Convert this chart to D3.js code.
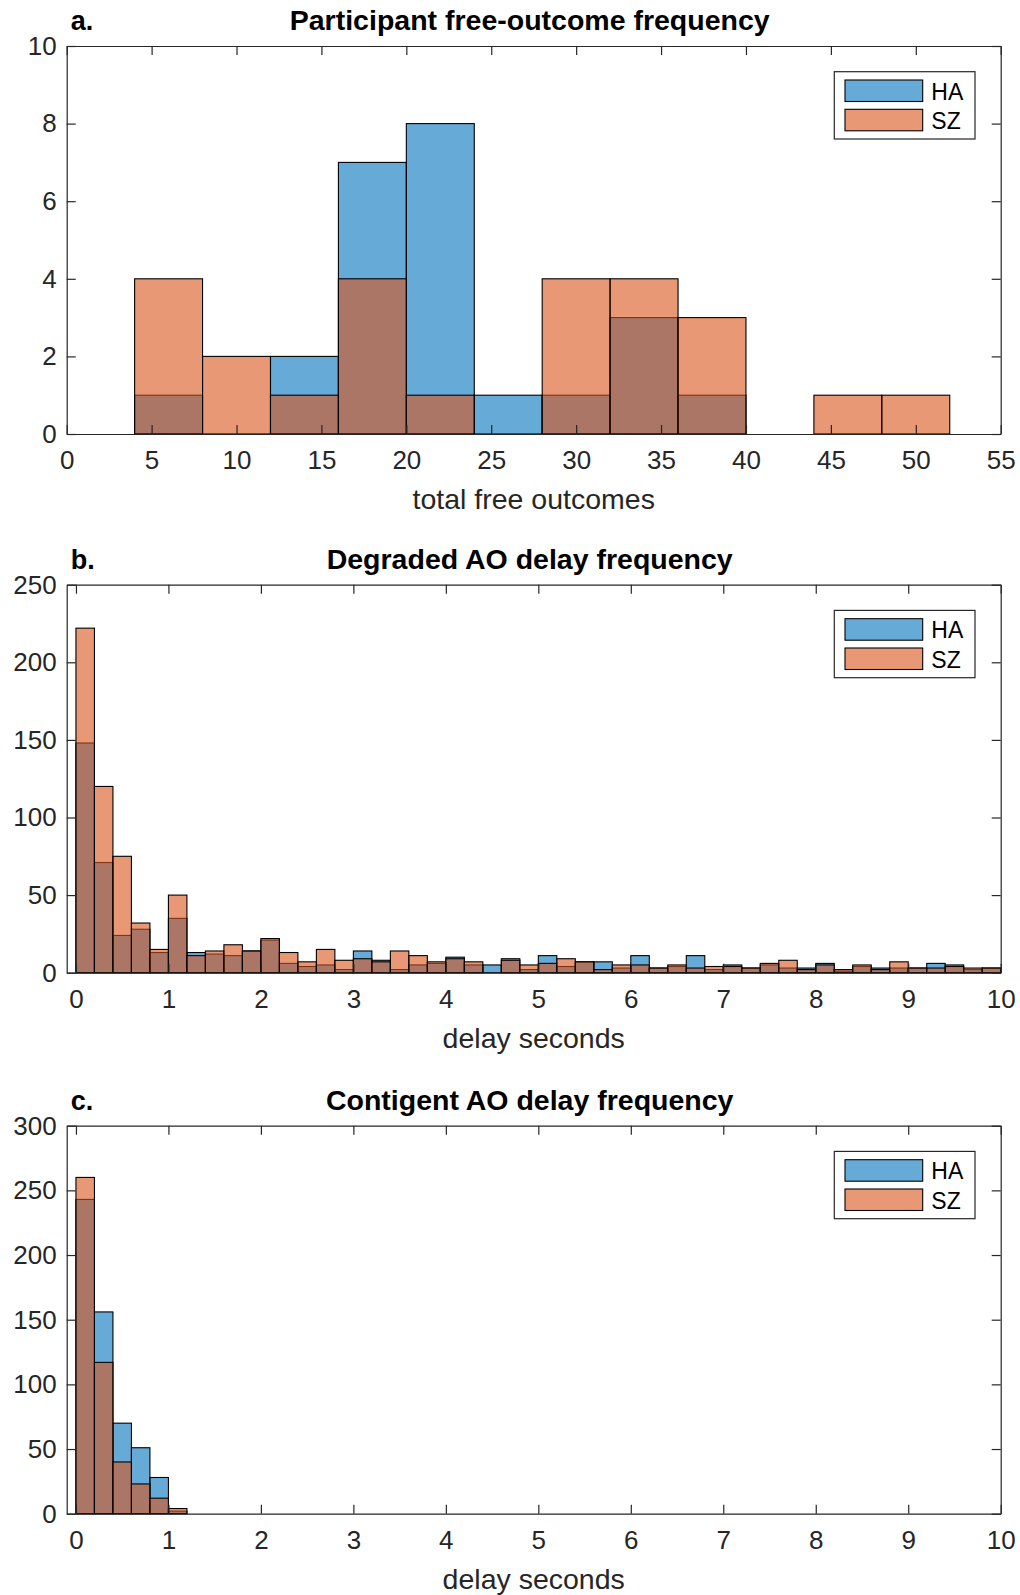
<!DOCTYPE html>
<html>
<head>
<meta charset="utf-8">
<script src="https://d3js.org/d3.v7.min.js"></script>
<style>
  body { margin: 0; background: #fff; }
  text { font-family: "Liberation Sans", Arial, Helvetica, sans-serif; fill: #262626; }
</style>
</head>
<body>
<script>
var WIDTH = 1020;
var HEIGHT = 1595;

// panel a: participant free-outcome counts, bins of 4
var freeEdges = [4, 8, 12, 16, 20, 24, 28, 32, 36, 40, 44, 48, 52];
var freeHA = [1, 0, 2, 7, 8, 1, 1, 3, 1, 0, 0, 0];
var freeSZ = [4, 2, 1, 4, 1, 0, 4, 4, 3, 0, 1, 1];
var freeXTicks = [0, 5, 10, 15, 20, 25, 30, 35, 40, 45, 50, 55];
var freeYTicks = [0, 2, 4, 6, 8, 10];

// panel b: degraded AO delay, bins of 0.2 s
var delayEdges = [0, 0.2, 0.4, 0.6, 0.8, 1, 1.2, 1.4, 1.6, 1.8, 2, 2.2, 2.4, 2.6, 2.8, 3, 3.2, 3.4, 3.6, 3.8,
  4, 4.2, 4.4, 4.6, 4.8, 5, 5.2, 5.4, 5.6, 5.8, 6, 6.2, 6.4, 6.6, 6.8, 7, 7.2, 7.4, 7.6, 7.8,
  8, 8.2, 8.4, 8.6, 8.8, 9, 9.2, 9.4, 9.6, 9.8, 10];
var degHA = [148, 71, 24, 28, 13, 35, 13, 12, 11, 14,
  21, 6, 4, 5, 2, 14, 8, 2, 5, 6,
  10, 5, 5, 9, 2, 11, 4, 7, 7, 3,
  11, 3, 4, 11, 2, 5, 3, 5, 3, 3,
  6, 1, 4, 3, 3, 3, 6, 5, 2, 3];
var degSZ = [222, 120, 75, 32, 15, 50, 11, 14, 18, 14,
  22, 13, 7, 15, 8, 9, 7, 14, 11, 7,
  9, 7, 0, 8, 5, 6, 9, 7, 2, 5,
  5, 3, 5, 3, 4, 4, 3, 6, 8, 2,
  5, 2, 5, 2, 7, 3, 3, 4, 3, 3];
var degYTicks = [0, 50, 100, 150, 200, 250];

// panel c: contingent AO delay
var contEdges = [0, 0.2, 0.4, 0.6, 0.8, 1, 1.2];
var contHA = [243, 156, 70, 51, 28, 2];
var contSZ = [260, 117, 40, 23, 12, 4];
var contYTicks = [0, 50, 100, 150, 200, 250, 300];

var delayXTicks = [0, 1, 2, 3, 4, 5, 6, 7, 8, 9, 10];

var BLUE = "rgb(0,114,189)";
var ORANGE = "rgb(217,83,25)";

var svg = d3.select("body")
  .append("svg")
  .attr("width", WIDTH)
  .attr("height", HEIGHT);

var LEFT = 66.7, RIGHT = 1000.7, PH = 388;

function histPanel(opt) {
  var g = svg.append("g").attr("transform", "translate(0," + opt.top + ")");

  var x = d3.scaleLinear().domain(opt.xdom).range([LEFT, RIGHT]);
  var y = d3.scaleLinear().domain(opt.ydom).range([PH, 0]);

  // bars, HA first then SZ drawn over it
  [[opt.ha, BLUE], [opt.sz, ORANGE]].forEach(function (s) {
    var bins = s[0].map(function (v, i) {
      return { x0: opt.edges[i], x1: opt.edges[i + 1], v: v };
    });
    g.append("g").selectAll("rect")
      .data(bins)
      .enter()
      .append("rect")
      .attr("x", function (d) { return x(d.x0); })
      .attr("width", function (d) { return x(d.x1) - x(d.x0); })
      .attr("y", function (d) { return y(d.v); })
      .attr("height", function (d) { return y(0) - y(d.v); })
      .attr("fill", s[1])
      .attr("fill-opacity", 0.6)
      .attr("stroke", "#000")
      .attr("stroke-width", 1.1);
  });

  // box + ticks on all sides, pointing inwards
  var bottom = d3.axisBottom(x).tickValues(opt.xticks).tickSizeInner(-9).tickSizeOuter(0).tickPadding(17);
  var top = d3.axisTop(x).tickValues(opt.xticks).tickSizeInner(-9).tickSizeOuter(0).tickFormat("");
  var left = d3.axisLeft(y).tickValues(opt.yticks).tickSizeInner(-9).tickSizeOuter(0).tickPadding(10);
  var right = d3.axisRight(y).tickValues(opt.yticks).tickSizeInner(-9).tickSizeOuter(0).tickFormat("");

  var axes = [
    g.append("g").attr("transform", "translate(0," + PH + ")").call(bottom),
    g.append("g").call(top),
    g.append("g").attr("transform", "translate(" + LEFT + ",0)").call(left),
    g.append("g").attr("transform", "translate(" + RIGHT + ",0)").call(right)
  ];
  axes.forEach(function (a) {
    a.select(".domain").attr("stroke", "#262626").attr("stroke-width", 1.2);
    a.selectAll(".tick line").attr("stroke", "#262626").attr("stroke-width", 1.2);
    a.selectAll(".tick text").attr("fill", "#262626").style("font-size", "26px");
  });

  // title + panel letter
  g.append("text")
    .attr("x", (LEFT + RIGHT) / 2 - 4)
    .attr("y", -16)
    .attr("text-anchor", "middle")
    .style("font-size", "28.5px")
    .style("font-weight", "bold")
    .style("fill", "#000")
    .text(opt.title);
  g.append("text")
    .attr("x", LEFT + 4)
    .attr("y", -16)
    .style("font-size", "27px")
    .style("font-weight", "bold")
    .style("fill", "#000")
    .text(opt.letter);

  g.append("text")
    .attr("x", (LEFT + RIGHT) / 2)
    .attr("y", PH + 75)
    .attr("text-anchor", "middle")
    .style("font-size", "28.5px")
    .text(opt.xlabel);

  // legend
  var lg = g.append("g").attr("transform", "translate(834.3,25.7)");
  lg.append("rect").attr("width", 140.7).attr("height", 67.3)
    .attr("fill", "#fff").attr("stroke", "#262626").attr("stroke-width", 1.2);
  [["HA", BLUE], ["SZ", ORANGE]].forEach(function (l, i) {
    lg.append("rect")
      .attr("x", 10.7).attr("y", 8.3 + i * 29.3)
      .attr("width", 77.7).attr("height", 21.5)
      .attr("fill", l[1]).attr("fill-opacity", 0.6)
      .attr("stroke", "#000").attr("stroke-width", 1.1);
    lg.append("text")
      .attr("x", 97).attr("y", 28 + i * 29.3)
      .style("font-size", "23px")
      .style("fill", "#000")
      .text(l[0]);
  });
}

histPanel({
  top: 46, letter: "a.", title: "Participant free-outcome frequency", xlabel: "total free outcomes",
  xdom: [0, 55], ydom: [0, 10], edges: freeEdges, ha: freeHA, sz: freeSZ,
  xticks: freeXTicks, yticks: freeYTicks
});

histPanel({
  top: 584.7, letter: "b.", title: "Degraded AO delay frequency", xlabel: "delay seconds",
  xdom: [-0.1, 10], ydom: [0, 250], edges: delayEdges, ha: degHA, sz: degSZ,
  xticks: delayXTicks, yticks: degYTicks
});

histPanel({
  top: 1125.7, letter: "c.", title: "Contigent AO delay frequency", xlabel: "delay seconds",
  xdom: [-0.1, 10], ydom: [0, 300], edges: contEdges, ha: contHA, sz: contSZ,
  xticks: delayXTicks, yticks: contYTicks
});
</script>
</body>
</html>
